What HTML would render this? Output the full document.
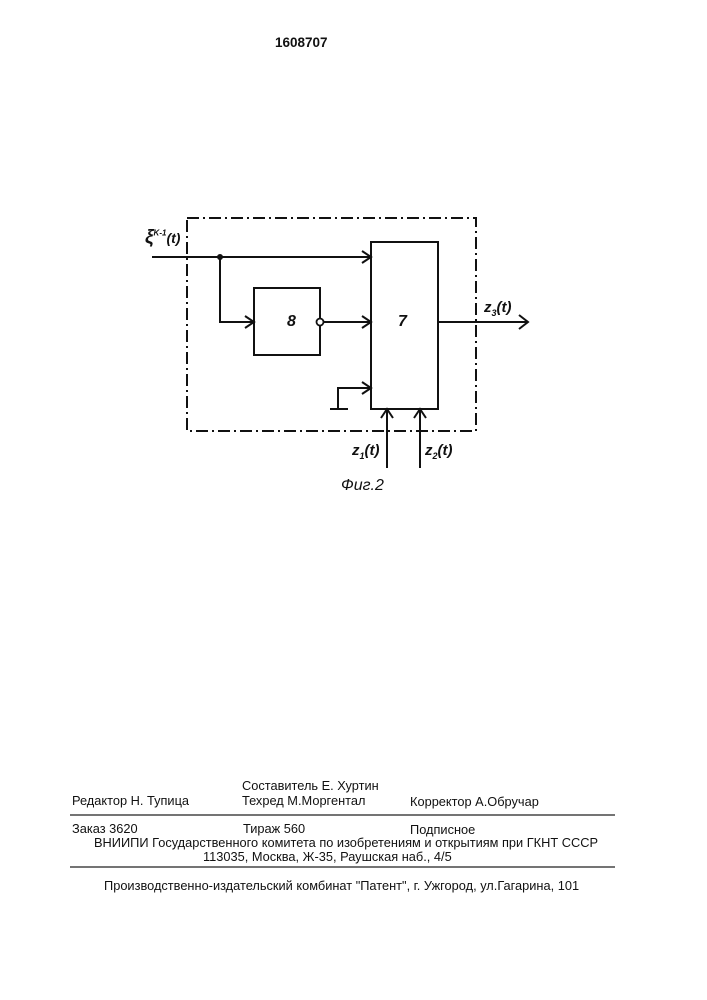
<!DOCTYPE html>
<html><head><meta charset="utf-8"><style>
html,body{margin:0;padding:0;background:#fff;}
body{width:707px;height:1000px;position:relative;overflow:hidden;font-family:"Liberation Sans","DejaVu Sans",sans-serif;color:#111;}
.t{position:absolute;font-size:12.8px;white-space:nowrap;line-height:1;}
.i{font-style:italic;font-weight:bold;font-family:"Liberation Sans",sans-serif;}
</style></head><body>
<div class="t" style="left:275px;top:36px;font-size:13.5px;font-weight:bold;">1608707</div>
<svg width="707" height="1000" style="position:absolute;left:0;top:0" xmlns="http://www.w3.org/2000/svg">
<g stroke="#111" stroke-width="2" fill="none">
<rect x="187" y="218" width="289" height="213" stroke-dasharray="12,4,2,4"/>
<rect x="371" y="242" width="67" height="167"/>
<rect x="254" y="288" width="66" height="67"/>
<line x1="152" y1="257" x2="371" y2="257"/>
<polyline points="220,257 220,322 254,322"/>
<line x1="324" y1="322" x2="371" y2="322"/>
<polyline points="371,388 338,388 338,408"/>
<line x1="330" y1="409" x2="348" y2="409"/>
<line x1="438" y1="322" x2="528" y2="322"/>
<line x1="387" y1="468" x2="387" y2="409"/>
<line x1="420" y1="468" x2="420" y2="409"/>
<polyline points="362,251 371,257 362,263"/>
<polyline points="362,316 371,322 362,328"/>
<polyline points="362,382 371,388 362,394"/>
<polyline points="245,316 254,322 245,328"/>
<polyline points="519,315 528,322 519,329"/>
<polyline points="381,418 387,409 393,418"/>
<polyline points="414,418 420,409 426,418"/>
<circle cx="320" cy="322" r="3.5" stroke-width="1.8" fill="#fff"/>
</g>
<circle cx="220" cy="257" r="3" fill="#111"/>
<g stroke="#222" stroke-width="1.2">
<line x1="70" y1="815" x2="615" y2="815"/>
<line x1="70" y1="867" x2="615" y2="867"/>
</g>
</svg>
<div class="t i" style="left:145px;top:228px;font-size:19px;">ξ<sup style="font-size:8px">K-1</sup><span style="font-size:14px">(t)</span></div>
<div class="t i" style="left:287px;top:314px;font-size:16px;">8</div>
<div class="t i" style="left:398px;top:314px;font-size:16px;">7</div>
<div class="t i" style="left:484px;top:300px;font-size:15px;">z<sub style="font-size:9px">3</sub>(t)</div>
<div class="t i" style="left:352px;top:443px;font-size:15px;">z<sub style="font-size:9px">1</sub>(t)</div>
<div class="t i" style="left:425px;top:443px;font-size:15px;">z<sub style="font-size:9px">2</sub>(t)</div>
<div class="t i" style="left:341px;top:478px;font-size:16px;font-weight:normal;">Фиг.2</div>
<div class="t" style="left:242px;top:780px;">Составитель  Е. Хуртин</div>
<div class="t" style="left:72px;top:795px;">Редактор  Н. Тупица</div>
<div class="t" style="left:242px;top:795px;">Техред М.Моргентал</div>
<div class="t" style="left:410px;top:796px;">Корректор  А.Обручар</div>
<div class="t" style="left:72px;top:823px;">Заказ  3620</div>
<div class="t" style="left:243px;top:823px;">Тираж 560</div>
<div class="t" style="left:410px;top:824px;">Подписное</div>
<div class="t" style="left:94px;top:837px;">ВНИИПИ Государственного комитета по изобретениям и открытиям при ГКНТ СССР</div>
<div class="t" style="left:203px;top:851px;">113035, Москва, Ж-35, Раушская наб., 4/5</div>
<div class="t" style="left:104px;top:880px;">Производственно-издательский комбинат "Патент", г. Ужгород, ул.Гагарина, 101</div>
</body></html>
